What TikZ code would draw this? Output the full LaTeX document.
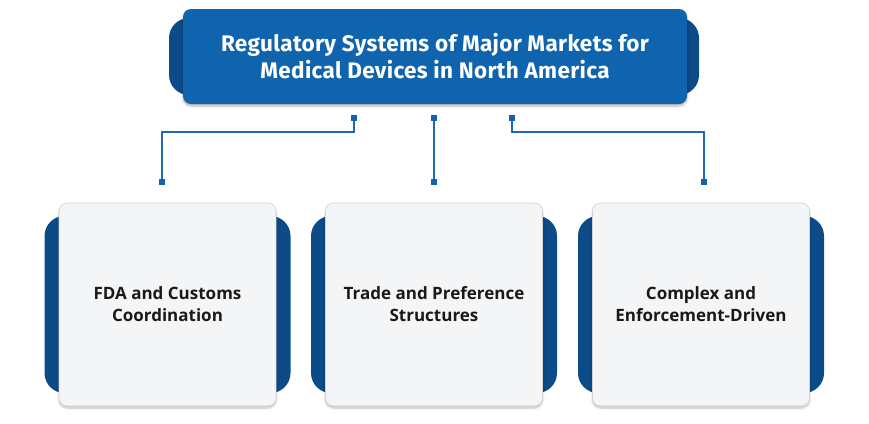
\documentclass[tikz,border=0pt]{standalone}
\usepackage{fontspec}
\setmainfont{Open Sans}
\newfontfamily\titlefont[LetterSpace=1.5]{Fira Sans}
\usetikzlibrary{shadows.blur}
\definecolor{mainblue}{HTML}{1064AE}
\definecolor{backblue}{HTML}{0D4A88}
\definecolor{linkblue}{HTML}{1E68B4}
\definecolor{cardfill}{HTML}{F4F5F6}
\begin{document}
\begin{tikzpicture}[x=1pt,y=-1pt,
  backshape/.style={fill=backblue, rounded corners=20pt},
  titlebox/.style={fill=mainblue, rounded corners=8pt, minimum width=504pt, minimum height=95pt,
    text=white, font=\titlefont\fontsize{22.5}{27}\selectfont\bfseries, align=center, inner sep=0pt,
    blur shadow={shadow blur steps=6, shadow xshift=0pt, shadow yshift=-2pt, shadow opacity=30}},
  cardbox/.style={fill=cardfill, draw=black!18, line width=0.6pt, rounded corners=8pt,
    minimum width=217pt, minimum height=203pt, align=center, inner sep=0pt,
    font=\fontsize{17}{22}\selectfont\bfseries, text=black!90,
    blur shadow={shadow blur steps=6, shadow xshift=0pt, shadow yshift=-2pt, shadow opacity=25}},
  dot/.style={fill=mainblue, minimum size=6.5pt, inner sep=0pt},
  link/.style={draw=linkblue, line width=1.1pt}
]
\useasboundingbox (0,0) rectangle (869,423);
% title
\fill[backshape] (169,18) rectangle (699,95);
\node[titlebox] (title) at (435,56.5) {Regulatory Systems of Major Markets for\\Medical Devices in North America};
% cards
\foreach \cx/\name/\txt in {167.5/c1/{FDA and Customs\\Coordination}, 434/c2/{Trade and Preference\\Structures}, 701/c3/{Complex and\\Enforcement-Driven}}{
  \fill[backshape] (\cx-123,216) rectangle (\cx+123,393);
  \node[cardbox] (\name) at (\cx,304.5) {\txt};
}
% connectors
\coordinate (j1) at (354,132);
\coordinate (j3) at (512,132);
\node[dot] (t1) at (354,118) {};
\node[dot] (t2) at (434,118) {};
\node[dot] (t3) at (512,118) {};
\node[dot] (b1) at (162,182) {};
\node[dot] (b2) at (434,182) {};
\node[dot] (b3) at (704,182) {};
\draw[link] (t1.center) -- (j1) -| (b1.center);
\draw[link] (t2.center) -- (b2.center);
\draw[link] (t3.center) -- (j3) -| (b3.center);
\node[dot] at (t1) {};
\node[dot] at (t2) {};
\node[dot] at (t3) {};
\node[dot] at (b1) {};
\node[dot] at (b2) {};
\node[dot] at (b3) {};
\end{tikzpicture}
\end{document}
